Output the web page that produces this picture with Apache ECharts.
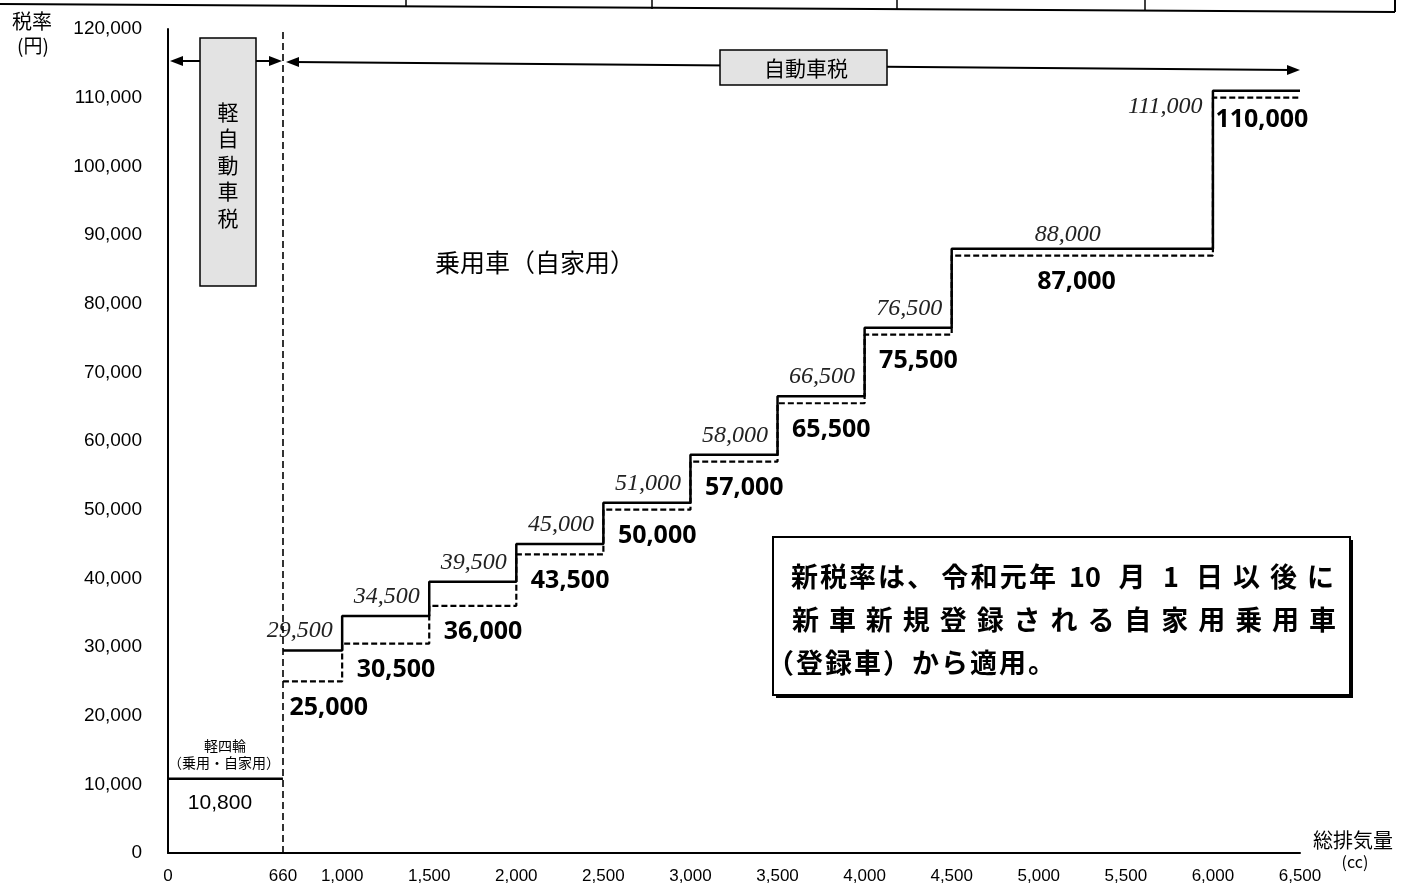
<!DOCTYPE html>
<html lang="ja">
<head>
<meta charset="UTF-8">
<title>自動車税 税率</title>
<style>
  html, body { margin: 0; padding: 0; background: #fff; }
  #main { width: 1401px; height: 892px; }
</style>
</head>
<body>
<div id="main"></div>
<script src="https://cdn.jsdelivr.net/npm/echarts@6/dist/echarts.min.js"></script>
<script>
// 総排気量の区分 (cc)
var stepBreaks = [660, 1000, 1500, 2000, 2500, 3000, 3500, 4000, 4500, 6000, 6500];
// 旧税率 (円)
var oldRates = [29500, 34500, 39500, 45000, 51000, 58000, 66500, 76500, 88000, 111000];
// 新税率 (円)
var newRates = [25000, 30500, 36000, 43500, 50000, 57000, 65500, 75500, 87000, 110000];
// 軽四輪
var keiRange = [0, 660];
var keiRate = 10800;
// 目盛
var xTicks = [0, 660, 1000, 1500, 2000, 2500, 3000, 3500, 4000, 4500, 5000, 5500, 6000, 6500];
var yMax = 120000;
var yStep = 10000;

var INK = '#000';
var CJK = '"Noto Sans CJK JP", sans-serif';

function fmt(v) { return Number(v).toLocaleString('en-US'); }

// 階段データ (step:'end' で描く)
function stepData(rates) {
  var d = [];
  for (var i = 0; i < rates.length; i++) d.push([stepBreaks[i], rates[i]]);
  d.push([stepBreaks[stepBreaks.length - 1], rates[rates.length - 1]]);
  return d;
}

// 旧税率ラベル: 各区分の右端の上
var oldLabelData = oldRates.map(function (v, i) {
  if (i === 8) {
    return { value: [(stepBreaks[i] + stepBreaks[i + 1]) / 2, v], label: { align: 'center', position: [-14, -14] } };
  }
  if (i === 9) {
    return { value: [stepBreaks[i], v], label: { position: [-10, 16] } };
  }
  return { value: [stepBreaks[i + 1], v] };
});

// 新税率ラベル: 各区分の左端の下
var newLabelData = newRates.map(function (v, i) {
  var dx = 15, dy = 27;
  if (i === 0) dx = 7;
  if (i === 8) dx = 86;
  if (i === 9) { dx = 3; dy = 23; }
  return { value: [stepBreaks[i], v], label: { position: [dx, dy] } };
});

// 文字を均等に並べる
function spread(str, x0, x1, y, font) {
  var out = [];
  var n = str.length;
  var pitch = (x1 - x0) / n;
  for (var i = 0; i < n; i++) {
    out.push({
      type: 'text', x: x0 + (i + 0.5) * pitch, y: y, z: 20,
      style: { text: str[i], font: font, fill: INK, align: 'center', verticalAlign: 'middle' }
    });
  }
  return out;
}

function arrowHead(tipX, tipY, dir) {
  var b = tipX - dir * 13;
  return {
    type: 'polygon', z: 15,
    shape: { points: [[tipX, tipY], [b, tipY - 5], [b, tipY + 5]] },
    style: { fill: INK }
  };
}

var boxFont = 'bold 27px ' + CJK;
var graphics = [
  // 上部の表罫線 (切れ端)
  { type: 'line', shape: { x1: 0, y1: 4, x2: 1395, y2: 12 }, style: { stroke: INK, lineWidth: 2 } },
  { type: 'line', shape: { x1: 406, y1: 0, x2: 406, y2: 7 }, style: { stroke: INK, lineWidth: 1.5 } },
  { type: 'line', shape: { x1: 652, y1: 0, x2: 652, y2: 9 }, style: { stroke: INK, lineWidth: 1.5 } },
  { type: 'line', shape: { x1: 897, y1: 0, x2: 897, y2: 10 }, style: { stroke: INK, lineWidth: 1.5 } },
  { type: 'line', shape: { x1: 1145, y1: 0, x2: 1145, y2: 11 }, style: { stroke: INK, lineWidth: 1.5 } },
  { type: 'line', shape: { x1: 1395, y1: 0, x2: 1395, y2: 12 }, style: { stroke: INK, lineWidth: 2 } },

  // 軸名
  { type: 'text', x: 12, y: 21, style: { text: '税率', font: '20px ' + CJK, fill: INK, verticalAlign: 'middle' } },
  { type: 'text', x: 33, y: 46, style: { text: '(円)', font: '19px ' + CJK, fill: INK, align: 'center', verticalAlign: 'middle' } },
  { type: 'text', x: 1353, y: 840, style: { text: '総排気量', font: '20px ' + CJK, fill: INK, align: 'center', verticalAlign: 'middle' } },
  { type: 'text', x: 1355, y: 862, style: { text: '(cc)', font: '16px ' + CJK, fill: INK, align: 'center', verticalAlign: 'middle' } },

  // 軽自動車税 の範囲
  { type: 'line', z: 14, shape: { x1: 175, y1: 61, x2: 200, y2: 61 }, style: { stroke: INK, lineWidth: 2 } },
  arrowHead(170, 61, -1),
  { type: 'line', z: 14, shape: { x1: 256, y1: 61, x2: 276, y2: 61 }, style: { stroke: INK, lineWidth: 2 } },
  arrowHead(282, 61, 1),
  { type: 'rect', z: 16, shape: { x: 200, y: 38, width: 56, height: 248 },
    style: { fill: '#e3e3e3', stroke: INK, lineWidth: 1.5 } },
  { type: 'text', z: 17, x: 228, y: 165,
    style: { text: '軽\n自\n動\n車\n税', font: '21px ' + CJK, lineHeight: 26.5, fill: INK, align: 'center', verticalAlign: 'middle' } },

  // 自動車税 の範囲
  { type: 'line', z: 14, shape: { x1: 292, y1: 62, x2: 1292, y2: 70 }, style: { stroke: INK, lineWidth: 2 } },
  arrowHead(286, 62, -1),
  arrowHead(1300, 70, 1),
  { type: 'rect', z: 16, shape: { x: 720, y: 50, width: 167, height: 35 },
    style: { fill: '#e3e3e3', stroke: INK, lineWidth: 1.5 } },
  { type: 'text', z: 17, x: 806, y: 68,
    style: { text: '自動車税', font: '21px ' + CJK, fill: INK, align: 'center', verticalAlign: 'middle' } },

  // 区分名
  { type: 'text', x: 435, y: 262, style: { text: '乗用車（自家用）', font: '25px ' + CJK, fill: INK, verticalAlign: 'middle' } },
  { type: 'text', x: 225, y: 746, style: { text: '軽四輪', font: '14px ' + CJK, fill: INK, align: 'center', verticalAlign: 'middle' } },
  { type: 'text', x: 224, y: 763, style: { text: '（乗用・自家用）', font: '14px ' + CJK, fill: INK, align: 'center', verticalAlign: 'middle' } },

  // 注記の枠
  { type: 'rect', z: 18, shape: { x: 776, y: 540, width: 577, height: 158 }, style: { fill: INK } },
  { type: 'rect', z: 19, shape: { x: 773, y: 537, width: 577, height: 158 },
    style: { fill: '#fff', stroke: INK, lineWidth: 2 } },
  { type: 'text', z: 20, x: 1085, y: 577, style: { text: '10', font: boxFont, fill: INK, align: 'center', verticalAlign: 'middle' } },
  { type: 'text', z: 20, x: 1132, y: 577, style: { text: '月', font: boxFont, fill: INK, align: 'center', verticalAlign: 'middle' } },
  { type: 'text', z: 20, x: 1171, y: 577, style: { text: '1', font: boxFont, fill: INK, align: 'center', verticalAlign: 'middle' } }
]
  .concat(spread('新税率は、', 790, 935, 577, boxFont))
  .concat(spread('令和元年', 940, 1057, 577, boxFont))
  .concat(spread('日以後に', 1191, 1339, 577, boxFont))
  .concat(spread('新車新規登録される自家用乗用車', 787, 1341, 620, boxFont))
  .concat(spread('（登録車）から適用。', 766, 1056, 663, boxFont));

var chart = echarts.init(document.getElementById('main'));

var hiddenPoint = { color: 'transparent', opacity: 1 };

var option = {
  animation: false,
  backgroundColor: '#fff',
  grid: { left: 168, right: 101, top: 29, bottom: 39 },
  xAxis: {
    type: 'value', min: 0, max: 6500,
    axisLine: { lineStyle: { color: INK, width: 2 } },
    axisTick: { show: false },
    splitLine: { show: false },
    axisLabel: {
      customValues: xTicks,
      formatter: fmt,
      color: INK, fontSize: 17, fontFamily: 'Liberation Sans', margin: 15
    }
  },
  yAxis: {
    type: 'value', min: 0, max: yMax, interval: yStep,
    axisLine: { show: true, lineStyle: { color: INK, width: 2 } },
    axisTick: { show: false },
    splitLine: { show: false },
    axisLabel: { formatter: fmt, color: INK, fontSize: 19, fontFamily: 'Liberation Sans', margin: 26 }
  },
  series: [
    {
      name: '軽四輪', type: 'line', silent: true, symbol: 'none',
      data: [[keiRange[0], keiRate], [keiRange[1], keiRate]],
      lineStyle: { color: INK, width: 2.5 },
      markLine: {
        silent: true, symbol: 'none', label: { show: false },
        lineStyle: { color: INK, width: 1.6, type: [7, 4] },
        data: [{ xAxis: keiRange[1] }]
      }
    },
    {
      name: '旧税率', type: 'line', step: 'end', silent: true, symbol: 'none',
      data: stepData(oldRates),
      lineStyle: { color: INK, width: 2.5 }
    },
    {
      name: '新税率', type: 'line', step: 'end', silent: true, symbol: 'none',
      data: stepData(newRates),
      lineStyle: { color: INK, width: 2.2, type: [6, 3] }
    },
    {
      name: '旧税率ラベル', type: 'scatter', silent: true, symbolSize: 1,
      itemStyle: hiddenPoint,
      data: oldLabelData,
      label: {
        show: true, position: [-9, -19], align: 'right', verticalAlign: 'middle',
        formatter: function (p) { return fmt(p.value[1]); },
        fontFamily: 'Liberation Serif', fontStyle: 'italic', fontSize: 24, color: '#222',
        opacity: 1, textBorderWidth: 0
      }
    },
    {
      name: '新税率ラベル', type: 'scatter', silent: true, symbolSize: 1,
      itemStyle: hiddenPoint,
      data: newLabelData,
      label: {
        show: true, align: 'left', verticalAlign: 'middle',
        formatter: function (p) { return fmt(p.value[1]); },
        fontFamily: 'Noto Sans', fontWeight: 'bold', fontSize: 25, color: INK,
        opacity: 1, textBorderWidth: 0
      }
    },
    {
      name: '軽四輪ラベル', type: 'scatter', silent: true, symbolSize: 1,
      itemStyle: hiddenPoint,
      data: [[(keiRange[0] + keiRange[1]) / 2, keiRate]],
      label: {
        show: true, position: [-5, 25], align: 'center', verticalAlign: 'middle',
        formatter: function (p) { return fmt(p.value[1]); },
        fontFamily: 'Liberation Sans', fontSize: 21, color: INK,
        opacity: 1, textBorderWidth: 0
      }
    }
  ],
  graphic: graphics
};

chart.setOption(option);
</script>
</body>
</html>
